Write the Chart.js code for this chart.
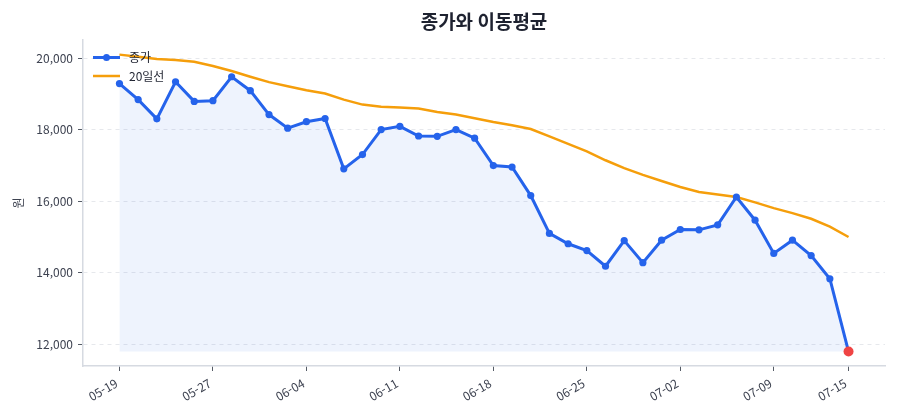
<!DOCTYPE html>
<html lang="ko">
<head>
<meta charset="utf-8">
<script src="https://cdn.jsdelivr.net/npm/chart.js@4.4.1/dist/chart.umd.min.js"></script>
<style>
  html, body { margin: 0; padding: 0; background: #fff; }
  #wrap { width: 900px; height: 420px; }
</style>
</head>
<body>
<div id="wrap"><canvas id="chart" width="900" height="420"></canvas></div>
<script>
// 거래일 라벨 (40개)
const dates = [
  '05-19', '05-20', '05-21', '05-22', '05-23', '05-27', '05-28', '05-29', '05-30', '06-02',
  '06-04', '06-05', '06-06', '06-09', '06-10', '06-11', '06-12', '06-13', '06-16', '06-17',
  '06-18', '06-19', '06-20', '06-23', '06-24', '06-25', '06-26', '06-27', '06-30', '07-01',
  '07-02', '07-03', '07-04', '07-07', '07-08', '07-09', '07-10', '07-11', '07-14', '07-15'
];
const closes = [
  19300, 18850, 18310, 19350, 18800, 18820, 19490, 19100, 18430, 18050,
  18230, 18320, 16910, 17310, 18010, 18100, 17830, 17820, 18010, 17770,
  17000, 16960, 16160, 15100, 14810, 14620, 14180, 14900, 14280, 14910,
  15210, 15200, 15340, 16120, 15470, 14540, 14910, 14480, 13830, 11790
];
const ma20 = [
  20110, 20050, 19990, 19960, 19910, 19790, 19650, 19490, 19340, 19225,
  19110, 19020, 18850, 18710, 18650, 18630, 18600, 18500, 18430, 18330,
  18220, 18130, 18025, 17820, 17610, 17400, 17150, 16930, 16740, 16570,
  16400, 16260, 16190, 16120, 15970, 15810, 15670, 15510, 15290, 15000
];
const yTicks = [12000, 14000, 16000, 18000, 20000];
const xTickIdx = [0, 5, 10, 15, 20, 25, 30, 35, 39];
const seriesNames = ['종가', '20일선'];
const titleText = '종가와 이동평균';
const yTitle = '원';

const FONT = "'Noto Sans CJK KR', 'Noto Sans', sans-serif";
const BLUE = '#2563eb';
const ORANGE = '#f59e0b';
const RED = '#ef4444';
const TEXT = '#3d4250';

const closePts = closes.map((v, i) => ({ x: i, y: v }));
const maPts = ma20.map((v, i) => ({ x: i, y: v }));
const lastIdx = closes.length - 1;
const lastPt = [{ x: lastIdx, y: closes[lastIdx] }];
const fillBase = Math.min(...closes);

// 제목 + 범례 (차트 영역 기준으로 그림)
const overlay = {
  id: 'overlay',
  afterDatasetsDraw(chart) {
    const { ctx, chartArea } = chart;
    const x0 = chartArea.left + 10;
    const x1 = x0 + 27;
    const rows = [chartArea.top + 17.5, chartArea.top + 36];
    ctx.save();
    // 종가
    ctx.strokeStyle = BLUE;
    ctx.lineWidth = 3;
    ctx.beginPath();
    ctx.moveTo(x0, rows[0]);
    ctx.lineTo(x1, rows[0]);
    ctx.stroke();
    ctx.fillStyle = BLUE;
    ctx.beginPath();
    ctx.arc((x0 + x1) / 2, rows[0], 3.5, 0, Math.PI * 2);
    ctx.fill();
    // 20일선
    ctx.strokeStyle = ORANGE;
    ctx.lineWidth = 2.5;
    ctx.beginPath();
    ctx.moveTo(x0, rows[1]);
    ctx.lineTo(x1, rows[1]);
    ctx.stroke();
    ctx.fillStyle = '#1f2330';
    ctx.font = '12px ' + FONT;
    ctx.textBaseline = 'middle';
    ctx.textAlign = 'left';
    ctx.fillText(seriesNames[0], x1 + 9, rows[0]);
    ctx.fillText(seriesNames[1], x1 + 9, rows[1]);
    ctx.restore();
  },
  afterDraw(chart) {
    const { ctx, chartArea } = chart;
    ctx.save();
    ctx.fillStyle = '#1e2230';
    ctx.font = 'bold 19px ' + FONT;
    ctx.textAlign = 'center';
    ctx.textBaseline = 'middle';
    ctx.fillText(titleText, (chartArea.left + chartArea.right) / 2, 22);
    ctx.restore();
  }
};

const ctx = document.getElementById('chart').getContext('2d');
new Chart(ctx, {
  type: 'line',
  data: {
    datasets: [
      {
        label: 'last',
        data: lastPt,
        showLine: false,
        pointRadius: 5,
        pointBackgroundColor: RED,
        pointBorderWidth: 0,
        order: 0
      },
      {
        label: seriesNames[0],
        data: closePts,
        borderColor: BLUE,
        borderWidth: 3,
        pointRadius: 3.6,
        pointBackgroundColor: BLUE,
        pointBorderWidth: 0,
        tension: 0,
        fill: { value: fillBase },
        backgroundColor: 'rgba(37, 99, 235, 0.08)',
        order: 1
      },
      {
        label: seriesNames[1],
        data: maPts,
        borderColor: ORANGE,
        borderWidth: 2.5,
        pointRadius: 0,
        tension: 0,
        fill: false,
        order: 2
      }
    ]
  },
  options: {
    responsive: false,
    animation: false,
    events: [],
    layout: { padding: { top: 40, right: 15, left: 0, bottom: 0 } },
    plugins: {
      legend: { display: false },
      title: { display: false },
      tooltip: { enabled: false }
    },
    scales: {
      x: {
        type: 'linear',
        min: -1.95,
        max: 40.95,
        afterBuildTicks: (scale) => { scale.ticks = xTickIdx.map(v => ({ value: v })); },
        afterFit: (scale) => { scale.height = 54; },
        grid: { drawOnChartArea: false, drawTicks: true, tickLength: 5, tickColor: '#555b66', tickWidth: 1 },
        border: { color: '#d6dae1', width: 1.5 },
        ticks: {
          minRotation: 30,
          maxRotation: 30,
          autoSkip: false,
          padding: 5,
          labelOffset: -3,
          color: TEXT,
          font: { family: FONT, size: 12 },
          callback: (v) => dates[v]
        }
      },
      y: {
        min: 11385,
        max: 20520,
        afterBuildTicks: (scale) => { scale.ticks = yTicks.map(v => ({ value: v })); },
        afterFit: (scale) => { scale.width = 83; },
        grid: { color: '#e6e8ec', lineWidth: 1, tickLength: 5, tickColor: '#555b66', tickWidth: 1 },
        border: { color: '#d6dae1', width: 1.5, dash: [4, 4] },
        ticks: {
          padding: 5,
          color: TEXT,
          font: { family: FONT, size: 12 },
          callback: (v) => v.toLocaleString('en-US')
        },
        title: {
          display: true,
          text: yTitle,
          color: TEXT,
          font: { family: FONT, size: 12 },
          padding: { top: 11, bottom: 0 }
        }
      }
    }
  },
  plugins: [overlay]
});
</script>
</body>
</html>
